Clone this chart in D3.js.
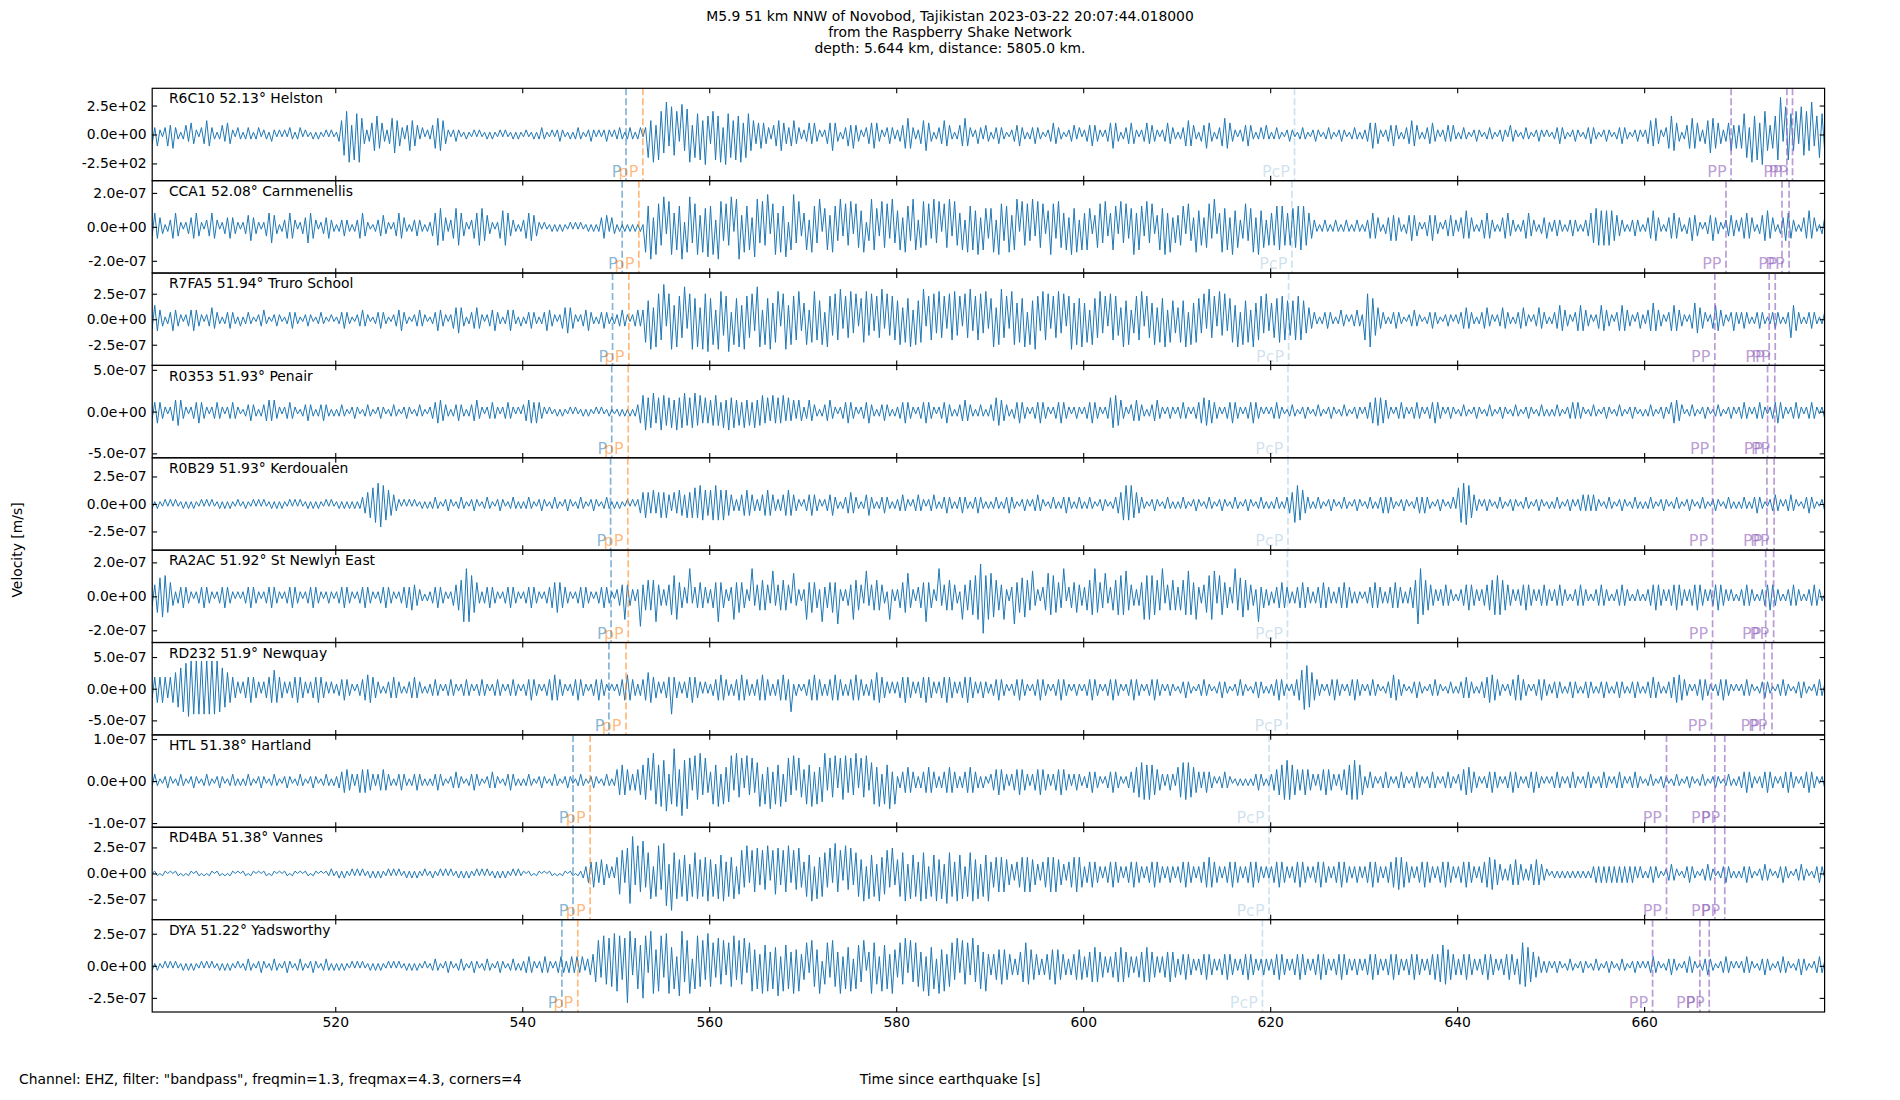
<!DOCTYPE html>
<html>
<head>
<meta charset="utf-8">
<script src="https://cdn.jsdelivr.net/npm/d3@7"></script>
<style>
  body { margin: 0; background: #fff; }
  svg text { font-family: "DejaVu Sans", sans-serif; }
</style>
</head>
<body>
<script>
// seismograms, Raspberry Shake record section
const width = 1900;
const height = 1100;

const titleLines = [
  "M5.9 51 km NNW of Novobod, Tajikistan 2023-03-22 20:07:44.018000",
  "from the Raspberry Shake Network",
  "depth: 5.644 km, distance: 5805.0 km."
];
const footerText = 'Channel: EHZ, filter: "bandpass", freqmin=1.3, freqmax=4.3, corners=4';

const stations = ["R6C10", "CCA1", "R7FA5", "R0353", "R0B29", "RA2AC", "RD232", "HTL", "RD4BA", "DYA"];
const distances = ["52.13", "52.08", "51.94", "51.93", "51.93", "51.92", "51.9", "51.38", "51.38", "51.22"];
const places = ["Helston", "Carnmenellis", "Truro School", "Penair", "Kerdoualen", "St Newlyn East", "Newquay", "Hartland", "Vannes", "Yadsworthy"];

// y limits (symmetric) and tick values per panel
const yLimits = [399, 2.72e-7, 4.53e-7, 5.53e-7, 4.2e-7, 2.72e-7, 7.29e-7, 1.1e-7, 4.44e-7, 3.6e-7];
const yTicks = [
  [-250, 0, 250], [-2e-7, 0, 2e-7], [-2.5e-7, 0, 2.5e-7], [-5e-7, 0, 5e-7], [-2.5e-7, 0, 2.5e-7],
  [-2e-7, 0, 2e-7], [-5e-7, 0, 5e-7], [-1e-7, 0, 1e-7], [-2.5e-7, 0, 2.5e-7], [-2.5e-7, 0, 2.5e-7]
];
const xTicks = [520, 540, 560, 580, 600, 620, 640, 660];
const xRange = [500.42, 679.3];

// phase arrival times [s]
const pTimes = [551.1, 550.69, 549.66, 549.57, 549.45, 549.5, 549.27, 545.43, 545.43, 544.24];
const pPTimes = [552.9, 552.47, 551.4, 551.34, 551.29, 551.34, 551.1, 547.26, 547.26, 545.94];
const pcpTimes = [622.6, 622.32, 621.97, 621.9, 621.9, 621.85, 621.8, 619.88, 619.88, 619.17];
const ppTimes = [
  [669.3, 675.27, 675.87], [668.75, 674.74, 675.5], [667.56, 673.37, 674.02], [667.44, 673.2, 673.97],
  [667.32, 673.13, 673.9], [667.32, 673.0, 673.85], [667.2, 672.84, 673.67], [662.39, 667.56, 668.62],
  [662.39, 667.56, 668.62], [660.9, 665.96, 666.96]
];

// traces: successive peak sizes (base 36 digit x unit), signs alternate,
// one string per 10 s starting at 500 s
const chunkStart = 500;
const chunkSeconds = 10;
const ampUnits = [20, 1.36e-8, 2.27e-8, 2.77e-8, 2.1e-8, 1.36e-8, 3.65e-8, 5.5e-9, 2.22e-8, 1.8e-8];

const traceR6C10 = [
  "243521354632124354213465321243542132", "123212312213212121321231211212112121", "1369ac4b9c742357865324786532476542312",
  "246776421232112112121121211212112121", "121121232112123211212321123212123212", "232123212313a6c4ba8e5c9a3d7bc4a9b6d8",
  "4ab8c3d9a6b8c5a9764565432456754356432", "235453212457531235464321345653213432", "234676322467531234654212457531243243",
  "123432112345321234321123543211234231", "234543212356531234542123544321235432", "123565421346531235765321234542123242",
  "123211232112321123211232112321123212", "235654212345421234654212345321234342", "123211232112321123214321123211232121",
  "123432112321123432112321123432112321", "246574213687531246765324687654235746", "469a3c8b5da7468bg3cb97a4c9a7e58a9746"
];
const traceCCA1 = [
  "246543123564212345642134653123454321", "235643212467531235653123476531234532", "123432123564211234532124654212343212",
  "246886423588642135688653212578643212", "356654212112121211212121121212455243", "12121212121b9e4ca8d3bc6a9e2bd7ac5b8d",
  "9c3eb6a8d2ce5b9a4dc7b8e3ac6b9d2ae7b4", "6a3b97c28a5b96c4a8b3a97b26ca84b9a5c7", "7a4b96ca39b8a5c7b2a9c4b86a3b9a7c4a85",
  "8b3ca69b5ac2b8a6c4b9a37ca5b96a4c8b3a", "6a8359a7b46a93b7a58c6a94b7a35a8c6b47", "5893a64b7849a5c36b8a4c7935a68b4c7938",
  "689a9868899a98653212321232123212321", "235654213465642135654212456532134543", "245754212356532124564321235643213452",
  "234321234321234678878787654321234321", "245764212456542134654212356432134543", "245654213567542134665321245754213453"
];
const traceR7FA5 = [
  "246543123543212345432123543212343213", "123211234211232112343211232112321121", "123432112343211234321123453211234321",
  "123543212456531234542123453212454213", "123432123543212456542123453212343212", "23432123434a8d5cb9f3bd6ca8e4bd9c5dbe",
  "9b4dc7ae3b9c6da8b5ec4b9d7ac3bd6ba9c5", "7b4ac98b3ca7b9d4a8c6b39ac7b5a8d4b7a9", "8b5a9c4b8ad3a9b6c8a4b9c7a3b8d5a9b6c4",
  "9c5bd8a4cb7a9c3b8da5c9b4a8c6b3ad7b9c", "7a4b98c6a3b9a75c8b46a9c3a87b5a9c4a86", "5a8c3b7a96b4d8a3c7b59a6c3b8a4c79a6b5",
  "789aa98789a986543212343212432123432", "9bc975432123432112343211234321123212", "234543212345321235432123453212354321",
  "234654321356543212465432135654321342", "245754321356543212476543124654321353", "234321234321234321238653212343212321"
];
const traceR0353 = [
  "234543212456532123454321234321234321", "123432123454532123432112343212343212", "123211232112321123211232112321123211",
  "234554321234321234532123432123432121", "345545432121121211212112121121211211", "121212123578678568766758678667867565",
  "567647586756475647567564756574645354", "235432123453212345432123453212343212", "234543212345432123453212345432123212",
  "346654321345432123454321234543212321", "234543212367765321345432123453212321", "234321234566554321234543212345432121",
  "234321123211232112321123211232112321", "234566655321234321234321234543212321", "123211232112321123211232112321123212",
  "123211234343211232112321123211232112", "123211232145543112321123211232112321", "234321234321234543212343212343212321"
];
const traceR0B29 = [
  "121211212121121212112121211212121121", "121121212112121211212121121212112121", "12121212123456789a876543212121211212",
  "123211232112321123211232112321123212", "123211232112321123211232112321123212", "121121212456546456564354654656768765",
  "678767654323456543234565432345654321", "234543212345321234543212453212343212", "234321234321234212343212343212343212",
  "123212343211232123432112321234321232", "123211232112345787865432112321123212", "123211232112321123211232112321123212",
  "123212345887643212321123211232112321", "123212343432112321123434321123211232", "789986432123211232112321123211232112",
  "123211232123434343211232112321123212", "123211232112321123211232112321123212", "123212343211234321234321123432112321"
];
const traceRA2AC = [
  "245789976423454321234543212345432121", "234543212345432123454321234543212321", "234543212345432123454321234546543212",
  "2345432124567bcb97632345432123454321", "234543212345676543212345432123454321", "345a54323d56767b5434589a6543c3456543",
  "356b65324a676532c4567653b4567653a432", "3a67653b45676c32345a7653b45676532a32", "3567a532456b6532c45676532a56789aeg9a",
  "a9765a324c678976b43246a89765c2456754", "4678c765a3467898b654346a9a9876c35676", "4678b86a43579ab3986543c68976543b4534",
  "234565432345654323456543234565432321", "234565432345654323457cc87654323454321", "234565432345678987654323456543234543",
  "234543212345432123454321234543212321", "234565432345654323456543234565432321", "234543212345654321234543212345432121"
];
const traceRD232 = [
  "3456565456789abccbcbcbcbcbca98765432", "345654323456865432345654323456543232", "234543212345665432123454321234543212",
  "234321234321234321234321234321234321", "234543212345654321234543212345432121", "234565432345765432345b54323456543232",
  "2345654323456543234565432345654a2321", "234565432345654323456543234576543232", "345654323456543234565432345654323432",
  "234543212345432123454321234543212321", "234543212345432123454321234543212321", "123432112343211234321123432112343212",
  "23454321234589a8754321234543212345432", "123432112346543211234321123432112321", "234543212345665432123456543212345432",
  "234321234321234321234321234321234321", "234543212345665432123454321234543212", "123432112343211234321123432112343212"
];
const traceHTL = [
  "123211232112321123211232112321123212", "123211232112321123211232112321123212", "234554323555543234543212343212343212",
  "123432112343211234321123432112343212", "123211232112321123211232112321123212", "567654345678a4ca7b9d3aeb5f9ca4b8c6a5",
  "4a7b3a69b4c7a3b6a58b3a6c4a7b39a6b4a7", "5a7b4a69c4a7b3a8b5a6c3a7b48a6b3a7c4a", "234565432345654323456543234565432321",
  "345654323456543234565432345654323432", "234543212345432123456788787654323432", "678887654345432123432112121212343212",
  "345678987654565432345654323456789876", "234321234321234321234321234321234321", "345665432123454321234543212345432121",
  "234321234321234321234321234321234321", "123211232112321123211232112321123212", "234543212345432123454321234543212321"
];
const traceRD4BA = [
  "101101101011010110110101101101011010", "110110101101101011011010110110101121", "121211212121121212112121211212121121",
  "121121212112121211212121121212112121", "101101101011010110110112345654654232", "79a4bdg5c8e69b3ac7de4g9b6a8c4a9b6a7c",
  "6a4b8c5a7b39a6c4a8b5a7c3a9b5a8c4a7b6", "5a8c3b7a96b4d8a3c7b59a6c3b8a4c79a6b5", "6a9c4b8a5c9b3a8c6b4d9a5c8b3a9c6b4a8c",
  "567878654356787865435678786543567876", "345654323456543234565432345654323432", "345654323456765432345654323456543232",
  "345654323456543234565432345654323432", "345654323456777654323456543234565432", "345654323456776543234565432345654321",
  "121212121212121234343434343434343232", "123432112343211234321123432112343212", "123432112343211234321123432112343212"
];
const traceDYA = [
  "121211212121121212112121211212121121", "123211232112321123211232112321123212", "121211212121121212112121211212121121",
  "123211232112321123211232112321123212", "2343212343212343234343423457b5d8c9e", "bd6cgf4ca9ed3fc7bd5ec8a4df7bc3ad9b6e",
  "9a5c8b4a9d6b8c3ab7a5c9b6a8d4b9a6c7b5", "6a3b97c28a5b96c4a8b3a97b26ca84b9a5c7", "5a8c3b7a96b4d8a3c7b59a6c3b8a4c79a6b5",
  "4567876543467a876543456787654345676", "456787654345678765434567876543456765", "345654323456543234565432345654323432",
  "345654323456543234565432345654323432", "345654323456543234565432345657987654", "345654323456543234565438a9876543232",
  "123211232112321123211232112321123212", "123432112343211234321123432112343212", "123432112343211234321123432112343212"
];
const traces = [traceR6C10, traceCCA1, traceR7FA5, traceR0353, traceR0B29, traceRA2AC, traceRD232, traceHTL, traceRD4BA, traceDYA];

// layout
const plotLeft = 152.2, plotRight = 1824.6, plotTop = 88.3, plotBottom = 1012;
const nPanels = stations.length;
const panelH = (plotBottom - plotTop) / nPanels;
const font = 13.9;

const svg = d3.select("body").append("svg")
  .attr("width", width)
  .attr("height", height);

const x = d3.scaleLinear().domain(xRange).range([plotLeft, plotRight]);

const sciFormat = (v) => v.toExponential(1).replace(/e([+-])(\d)$/, "e$10$2");

function tracePoints(chunks, unit) {
  const pts = [];
  let k = 0;
  chunks.forEach((s, c) => {
    const t0 = chunkStart + c * chunkSeconds;
    const dt = chunkSeconds / s.length;
    for (let i = 0; i < s.length; i++) {
      const v = parseInt(s[i], 36) * unit;
      pts.push([t0 + (i + 0.5) * dt, k % 2 ? -v : v]);
      k++;
    }
  });
  return pts;
}

const phaseStyles = {
  P: { color: "#1f77b4", opacity: 0.55 },
  pP: { color: "#ff7f0e", opacity: 0.55 },
  PcP: { color: "#1f77b4", opacity: 0.22 },
  PP: { color: "#9467bd", opacity: 0.65 }
};

stations.forEach((st, i) => {
  const y0 = plotTop + i * panelH;
  const y1 = y0 + panelH;
  const y = d3.scaleLinear().domain([-yLimits[i], yLimits[i]]).range([y1, y0]);
  const g = svg.append("g");

  g.append("clipPath").attr("id", "clip" + i)
    .append("rect").attr("x", plotLeft).attr("y", y0).attr("width", plotRight - plotLeft).attr("height", panelH);

  // waveform
  const line = d3.line().x((d) => x(d[0])).y((d) => y(d[1]));
  g.append("path")
    .datum(tracePoints(traces[i], ampUnits[i]))
    .attr("clip-path", `url(#clip${i})`)
    .attr("d", line)
    .attr("fill", "none")
    .attr("stroke", "#1f77b4")
    .attr("stroke-width", 1)
    .attr("stroke-linejoin", "round");

  // phase markers
  const phases = [
    { name: "P", t: pTimes[i] },
    { name: "pP", t: pPTimes[i] },
    { name: "PcP", t: pcpTimes[i] },
    ...ppTimes[i].map((t) => ({ name: "PP", t }))
  ];
  const ph = g.append("g").attr("clip-path", `url(#clip${i})`);
  ph.selectAll("line").data(phases).join("line")
    .attr("x1", (d) => x(d.t)).attr("x2", (d) => x(d.t))
    .attr("y1", y0).attr("y2", y1)
    .attr("stroke", (d) => phaseStyles[d.name].color)
    .attr("stroke-opacity", (d) => phaseStyles[d.name].opacity)
    .attr("stroke-width", 1.7)
    .attr("stroke-dasharray", "7,3");
  g.selectAll("text.phase").data(phases).join("text")
    .attr("class", "phase")
    .attr("x", (d) => x(d.t) - 4.5)
    .attr("y", y1 - 3.8)
    .attr("text-anchor", "end")
    .attr("font-size", 16)
    .attr("fill", (d) => phaseStyles[d.name].color)
    .attr("fill-opacity", (d) => phaseStyles[d.name].opacity)
    .text((d) => d.name);

  // axes, ticks pointing inward
  const yl = g.append("g").attr("transform", `translate(${plotLeft},0)`)
    .call(d3.axisLeft(y).tickValues(yTicks[i]).tickFormat(sciFormat).tickSizeInner(-4.9).tickSizeOuter(0).tickPadding(5.5));
  const yr = g.append("g").attr("transform", `translate(${plotRight},0)`)
    .call(d3.axisRight(y).tickValues(yTicks[i]).tickFormat("").tickSizeInner(-4.9).tickSizeOuter(0));
  const xt = g.append("g").attr("transform", `translate(0,${y0})`)
    .call(d3.axisTop(x).tickValues(xTicks).tickFormat("").tickSizeInner(-4.9).tickSizeOuter(0));
  const xb = g.append("g").attr("transform", `translate(0,${y1})`)
    .call(d3.axisBottom(x).tickValues(xTicks).tickFormat(i === nPanels - 1 ? d3.format("d") : "")
      .tickSizeInner(-4.9).tickSizeOuter(0).tickPadding(5));
  [yl, yr, xt, xb].forEach((a) => {
    a.select(".domain").remove();
    a.selectAll("line").attr("stroke", "#000").attr("stroke-width", 1.1);
    a.selectAll("text").attr("font-size", font).attr("fill", "#000").attr("font-family", "DejaVu Sans");
  });

  g.append("rect")
    .attr("x", plotLeft).attr("y", y0).attr("width", plotRight - plotLeft).attr("height", panelH)
    .attr("fill", "none").attr("stroke", "#000").attr("stroke-width", 1.2);

  g.append("text")
    .attr("x", plotLeft + 16.7)
    .attr("y", y0 + 4.6 + 0.76 * font)
    .attr("font-size", font)
    .text(`${st} ${distances[i]}° ${places[i]}`);
});

// titles and labels
svg.append("g").selectAll("text").data(titleLines).join("text")
  .attr("x", width / 2)
  .attr("y", (d, i) => 20.5 + i * 16.4)
  .attr("text-anchor", "middle")
  .attr("font-size", font)
  .text((d) => d);

svg.append("text")
  .attr("x", 19)
  .attr("y", 1084)
  .attr("font-size", font)
  .text(footerText);

svg.append("text")
  .attr("x", width / 2)
  .attr("y", 1084)
  .attr("text-anchor", "middle")
  .attr("font-size", font)
  .text("Time since earthquake [s]");

svg.append("text")
  .attr("transform", "translate(22,550) rotate(-90)")
  .attr("text-anchor", "middle")
  .attr("font-size", font)
  .text("Velocity [m/s]");
</script>
</body>
</html>
